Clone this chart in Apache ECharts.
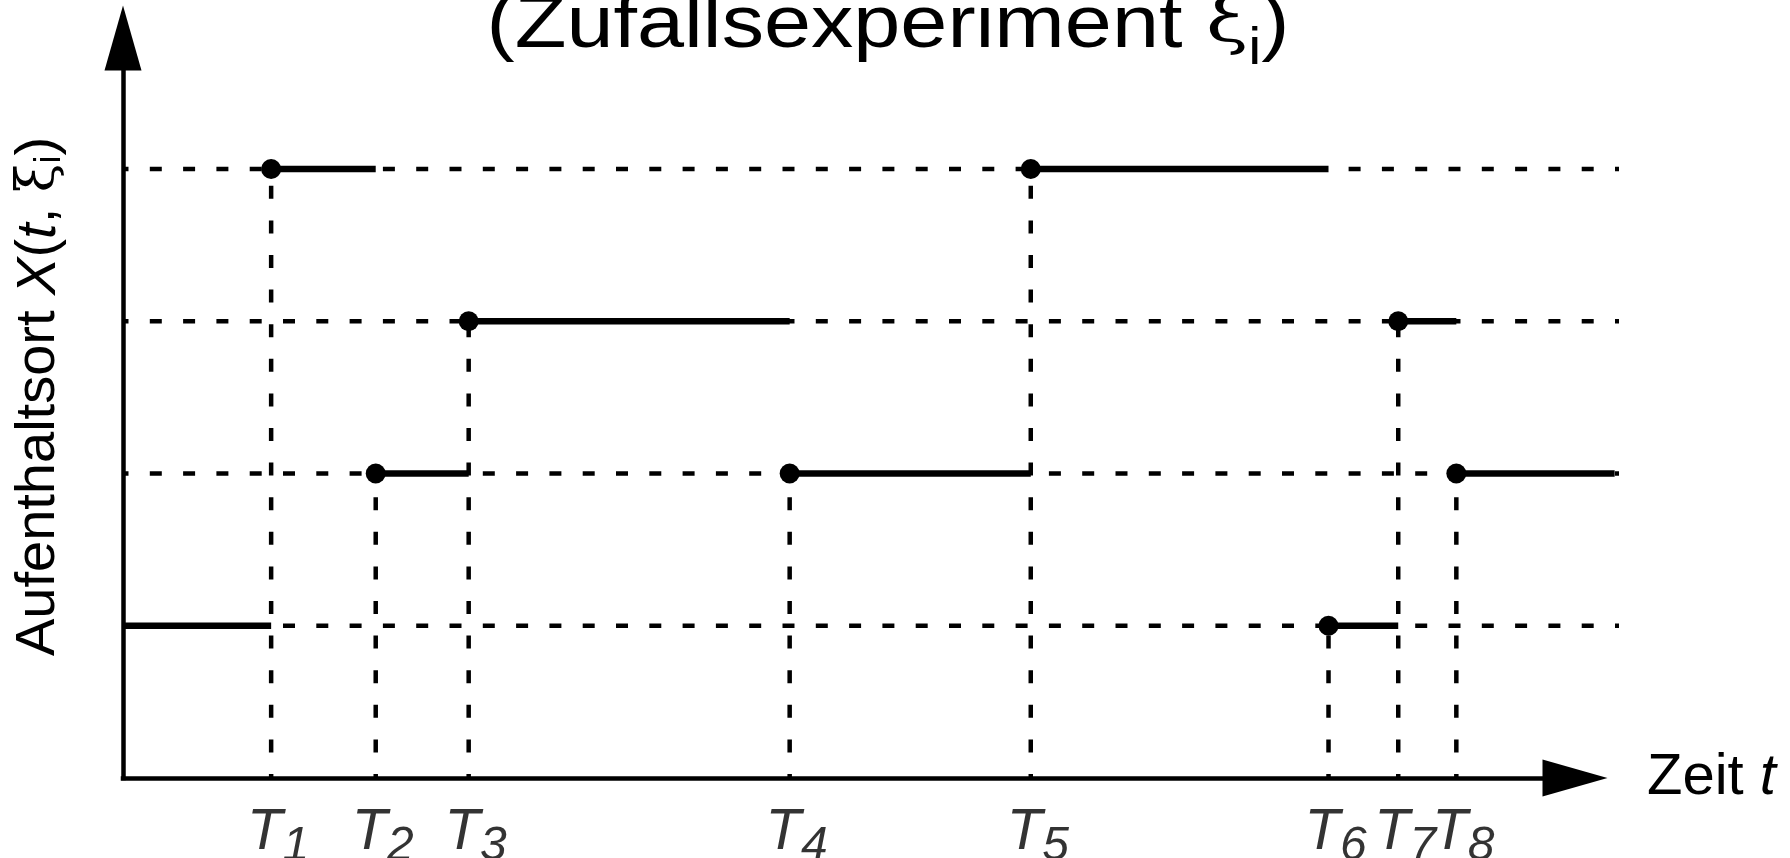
<!DOCTYPE html>
<html>
<head>
<meta charset="utf-8">
<script src="https://cdn.jsdelivr.net/npm/echarts@6/dist/echarts.min.js"></script>
<style>
html,body{margin:0;padding:0;background:#fff;}
#chart{width:1790px;height:858px;}
</style>
</head>
<body>
<div id="chart"></div>
<script>
// ---- data ----
const levelValues = [1, 2, 3, 4];                       // possible locations (dashed guide levels)
const jumpTimes = [1.02, 1.74, 2.38, 4.59, 6.25, 8.30, 8.78, 9.18]; // T1..T8
const jumpLabels = ['1', '2', '3', '4', '5', '6', '7', '8'];
const states = [1, 4, 2, 3, 2, 4, 1, 3, 2];             // location before T1, then after each jump
const startTime = 0;
const endTime = 10.27;
const guideEnd = 10.30;
const axisEnd = 10;
const levelMax = 4.86;

const FONT = 'Liberation Sans, Arial, Helvetica, sans-serif';
const chart = echarts.init(document.getElementById('chart'), null, {renderer: 'canvas'});

const D = {xAxisIndex: 1, yAxisIndex: 1};
const series = [];
// horizontal dashed guides
levelValues.forEach(function (L) {
  series.push(Object.assign({
    type: 'line', data: [[startTime, L], [guideEnd, L]], symbol: 'none', silent: true, z: 1,
    lineStyle: {color: '#000', width: 4.5, type: [12, 21.3], dashOffset: 6.5}
  }, D));
});
// vertical dashed drop lines
jumpTimes.forEach(function (t, i) {
  series.push(Object.assign({
    type: 'line', data: [[t, 0], [t, states[i + 1]]], symbol: 'none', silent: true, z: 1,
    lineStyle: {color: '#000', width: 4.5, type: [13, 21.6], dashOffset: 9}
  }, D));
});
// solid step segments
const bounds = [startTime].concat(jumpTimes, [endTime]);
states.forEach(function (L, i) {
  series.push(Object.assign({
    type: 'line', data: [[bounds[i], L], [bounds[i + 1], L]], symbol: 'none', silent: true, z: 3,
    lineStyle: {color: '#000', width: 6.5, cap: 'butt'}
  }, D));
});
// jump dots
series.push(Object.assign({
  type: 'scatter', data: jumpTimes.map(function (t, i) { return [t, states[i + 1]]; }),
  symbolSize: 20, itemStyle: {color: '#000', opacity: 1}, z: 4, silent: true
}, D));
// T_i labels under the axis
series.push(Object.assign({
  type: 'scatter', data: jumpTimes.map(function (t) { return [t, 0]; }),
  symbolSize: 1, itemStyle: {color: 'transparent'}, z: 5, silent: true,
  label: {
    show: true, position: 'bottom', distance: 25, offset: [7, 0],
    formatter: function (p) { return '{t|T}{s|' + jumpLabels[p.dataIndex] + '}'; },
    rich: {
      t: {fontSize: 58, lineHeight: 58, fontStyle: 'italic', fontFamily: FONT, color: '#000', verticalAlign: 'top'},
      s: {fontSize: 48, lineHeight: 48, fontStyle: 'italic', fontFamily: FONT, color: '#000', verticalAlign: 'top', padding: [19, 0, 0, 0]}
    }
  }
}, D));

const hiddenAxis = {show: false};
const option = {
  animation: false,
  backgroundColor: '#fff',
  grid: [
    {left: 123, right: 215, top: 38, bottom: 80, outerBoundsMode: 'none', containLabel: false},
    {left: 123, right: 171, top: 38, bottom: 80, outerBoundsMode: 'none', containLabel: false}
  ],
  xAxis: [{
    type: 'value', min: 0, max: axisEnd, gridIndex: 0,
    axisLine: {show: true, lineStyle: {color: '#000', width: 4.5, cap: 'square'}, symbol: ['none', 'triangle'], symbolSize: [37, 65]},
    axisTick: {show: false}, axisLabel: {show: false}, splitLine: {show: false},
    name: '{n|Zeit }{it|t}', nameLocation: 'end', nameGap: 72,
    nameTextStyle: {
      fontSize: 58, fontFamily: FONT, color: '#000',
      rich: {
        n: {fontSize: 58, fontFamily: FONT, color: '#000'},
        it: {fontSize: 58, fontFamily: FONT, color: '#000', fontStyle: 'italic'}
      }
    }
  }, Object.assign({type: 'value', min: 0, max: guideEnd, gridIndex: 1}, hiddenAxis)],
  yAxis: [{
    type: 'value', min: 0, max: levelMax, gridIndex: 0,
    axisLine: {show: true, lineStyle: {color: '#000', width: 4.5, cap: 'square'}, symbol: ['none', 'triangle'], symbolSize: [37, 65]},
    axisTick: {show: false}, axisLabel: {show: false}, splitLine: {show: false},
    name: '{n|Aufenthaltsort }{it|X}{n|(}{it|t}{n|, }{xi|ξ}{sub|i}{n|)}',
    nameLocation: 'middle', nameGap: 55, nameRotate: 90,
    nameTextStyle: {
      fontSize: 56, fontFamily: FONT, color: '#000', padding: [0, 0, 0, 23],
      rich: {
        n: {fontSize: 56, fontFamily: FONT, color: '#000'},
        it: {fontSize: 56, fontFamily: FONT, color: '#000', fontStyle: 'italic'},
        xi: {fontSize: 52, fontFamily: 'DejaVu Serif', color: '#000'},
        sub: {fontSize: 36, fontFamily: FONT, color: '#000', padding: [22, 0, 0, 0]}
      }
    }
  }, Object.assign({type: 'value', min: 0, max: levelMax, gridIndex: 1}, hiddenAxis)],
  graphic: [{
    type: 'text', x: 888, y: -11, scaleX: 1.128, silent: true,
    style: {
      text: '{n|(Zufallsexperiment }{xi|ξ}{sub|i}{n|)}',
      align: 'center', verticalAlign: 'top',
      rich: {
        n: {fontSize: 75, lineHeight: 75, fontFamily: FONT, fill: '#000', verticalAlign: 'top'},
        xi: {fontSize: 68, lineHeight: 75, fontFamily: 'DejaVu Serif', fill: '#000', verticalAlign: 'top'},
        sub: {fontSize: 52, lineHeight: 52, fontFamily: FONT, fill: '#000', verticalAlign: 'top', padding: [35, 0, 0, 0]}
      }
    }
  }],
  series: series
};
chart.setOption(option);
</script>
</body>
</html>
